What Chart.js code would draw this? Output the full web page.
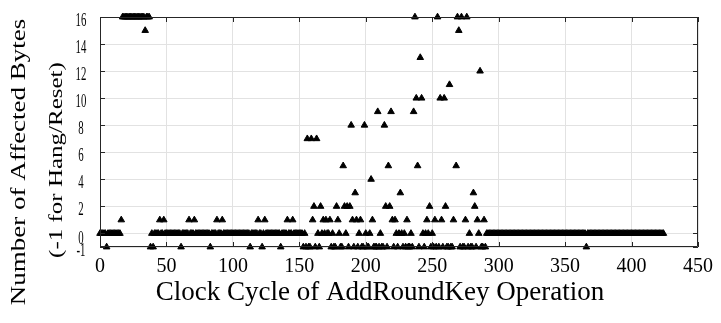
<!DOCTYPE html>
<html>
<head>
<meta charset="utf-8">
<script src="https://cdn.jsdelivr.net/npm/chart.js@4"></script>
<style>
  body { margin: 0; background: #fff; }
  #wrap { width: 721px; height: 323px; position: relative; }
</style>
</head>
<body>
<div id="wrap"><canvas id="faultChart"></canvas></div>
<script>
// affected bytes for each clock cycle (array index = cycle), null = no sample
var affectedBytes = [
  0, 0, 0, 0, 0, -1, 0, 0, 0, 0, 0, 0, 0, 0, 0, 0, 1, 16, 16, 16,
  16, 16, 16, 16, 16, 16, 16, 16, 16, 16, 16, 16, 16, 16, 15, 16, 16, 16, -1, 0,
  -1, 0, 0, 0, 0, 1, 0, 0, 1, 0, 0, 0, 0, 0, 0, 0, 0, 0, 0, 0,
  0, -1, 0, 0, 0, 0, 0, 1, 0, 0, 0, 1, 0, 0, 0, 0, 0, 0, 0, 0,
  0, 0, 0, -1, 0, 0, 0, 0, 1, 0, 0, 0, 1, 0, 0, 0, 0, 0, 0, 0,
  0, 0, 0, 0, 0, 0, 0, 0, 0, 0, 0, 0, 0, -1, 0, 0, 0, 0, 0, 1,
  0, 0, -1, 0, 1, 0, 0, 0, 0, 0, 0, 0, 0, 0, 0, 0, -1, 0, 0, 0,
  0, 1, 0, 0, 0, 1, 0, 0, 0, 0, 0, 0, 0, -1, 0, -1, 7, -1, -1, 7,
  1, 2, -1, 7, 0, -1, 2, 0, 1, 0, 1, 0, 0, 1, -1, 0, -1, -1, 2, 1,
  0, -1, -1, 5, 2, 0, 2, -1, 2, 8, 1, -1, 3, 1, -1, 0, 1, -1, -1, 8,
  0, -1, -1, 0, 4, 1, -1, -1, -1, 9, -1, 0, -1, -1, 8, 2, -1, 5, 2, 9,
  1, -1, 1, 0, -1, 0, 3, 0, -1, 0, -1, 1, -1, -1, 0, -1, 9, 16, 10, 5,
  -1, 13, 10, 0, -1, 0, 1, 0, 2, -1, 0, -1, 1, -1, 16, -1, 10, 1, -1, 10,
  2, -1, -1, 11, -1, -1, 1, null, 5, 16, 15, -1, 16, -1, -1, 1, 16, -1, 0, -1,
  -1, 3, 2, -1, 1, 0, 12, -1, -1, 1, -1, 0, 0, 0, 0, 0, 0, 0, 0, 0,
  0, 0, 0, 0, 0, 0, 0, 0, 0, 0, 0, 0, 0, 0, 0, 0, 0, 0, 0, 0,
  0, 0, 0, 0, 0, 0, 0, 0, 0, 0, 0, 0, 0, 0, 0, 0, 0, 0, 0, 0,
  0, 0, 0, 0, 0, 0, 0, 0, 0, 0, 0, 0, 0, 0, 0, 0, 0, 0, 0, 0,
  0, 0, 0, 0, 0, 0, -1, 0, 0, 0, 0, 0, 0, 0, 0, 0, 0, 0, 0, 0,
  0, 0, 0, 0, 0, 0, 0, 0, 0, 0, 0, 0, 0, 0, 0, 0, 0, 0, 0, 0,
  0, 0, 0, 0, 0, 0, 0, 0, 0, 0, 0, 0, 0, 0, 0, 0, 0, 0, 0, 0,
  0, 0, 0, 0, 0
];

var xTicks = [0, 50, 100, 150, 200, 250, 300, 350, 400, 450];
var yTicks = [-1, 0, 2, 4, 6, 8, 10, 12, 14, 16];

var xTitle = "Clock Cycle of AddRoundKey Operation";
var yTitle = ["Number of Affected Bytes", "(-1 for Hang/Reset)"];

var points = [];
affectedBytes.forEach(function (v, cycle) {
  if (v !== null) points.push({ x: cycle, y: v });
});

var serif = "'Liberation Serif', 'Times New Roman', serif";

// box with inward ticks, narrow y labels and the axis titles
var framePlugin = {
  id: "frame",
  afterDatasetsDraw: function (chart) {
    var ctx = chart.ctx, a = chart.chartArea;
    var xs = chart.scales.x, ys = chart.scales.y;
    ctx.save();
    ctx.strokeStyle = "#262626";
    ctx.lineWidth = 1;
    ctx.beginPath();
    ctx.rect(a.left + 0.5, a.top + 0.5, a.right - a.left - 1, a.bottom - a.top - 1);
    xTicks.forEach(function (t) {
      var px = Math.round(xs.getPixelForValue(t)) + 0.5;
      ctx.moveTo(px, a.top); ctx.lineTo(px, a.top + 5);
      ctx.moveTo(px, a.bottom); ctx.lineTo(px, a.bottom - 5);
    });
    yTicks.forEach(function (t) {
      var py = Math.round(ys.getPixelForValue(t)) + 0.5;
      ctx.moveTo(a.left, py); ctx.lineTo(a.left + 5, py);
      ctx.moveTo(a.right, py); ctx.lineTo(a.right - 5, py);
    });
    ctx.stroke();

    ctx.fillStyle = "#000";
    ctx.font = "18px " + serif;
    ctx.textAlign = "center";
    ctx.textBaseline = "middle";
    yTicks.forEach(function (t) {
      var py = ys.getPixelForValue(t) + (t === 0 ? 6 : 4);
      ctx.save();
      ctx.translate(81, py);
      ctx.scale(0.6, 1);
      ctx.fillText(String(t), 0, 0);
      ctx.restore();
    });

    ctx.font = "27px " + serif;
    ctx.textBaseline = "alphabetic";
    ctx.fillText(xTitle, 380, 300);

    var yPos = [[25, 162, 27], [62, 160, 25]];
    yTitle.forEach(function (line, i) {
      ctx.save();
      ctx.font = yPos[i][2] + "px " + serif;
      ctx.translate(yPos[i][0], yPos[i][1]);
      ctx.scale(0.75, 1);
      ctx.rotate(-Math.PI / 2);
      ctx.fillText(line, 0, 0);
      ctx.restore();
    });
    ctx.restore();
  }
};

var config = {
  type: "scatter",
  data: {
    datasets: [
      {
        data: points,
        pointStyle: "triangle",
        pointRadius: 3.8,
        pointBorderWidth: 1,
        backgroundColor: "#000",
        borderColor: "#000",
        clip: false
      }
    ]
  },
  options: {
    responsive: true,
    maintainAspectRatio: false,
    animation: false,
    layout: { padding: { top: 17, right: 17, left: 0, bottom: 0 } },
    plugins: { legend: { display: false }, tooltip: { enabled: false } },
    scales: {
      x: {
        type: "linear",
        min: 0,
        max: 450,
        afterBuildTicks: function (scale) {
          scale.ticks = xTicks.map(function (v) { return { value: v }; });
        },
        afterFit: function (scale) { scale.height = 76; },
        grid: { color: "#e2e2e2", drawTicks: false },
        border: { display: false },
        ticks: {
          color: "#000",
          font: { family: serif, size: 20 },
          padding: 8,
          maxRotation: 0,
          autoSkip: false
        }
      },
      y: {
        type: "linear",
        min: -1,
        max: 16,
        afterBuildTicks: function (scale) {
          scale.ticks = yTicks.map(function (v) { return { value: v }; });
        },
        afterFit: function (scale) { scale.width = 100; },
        grid: { color: "#e2e2e2", drawTicks: false },
        border: { display: false },
        ticks: { display: false }
      }
    }
  },
  plugins: [framePlugin]
};

var faultChart = new Chart(document.getElementById("faultChart"), config);
</script>
</body>
</html>
